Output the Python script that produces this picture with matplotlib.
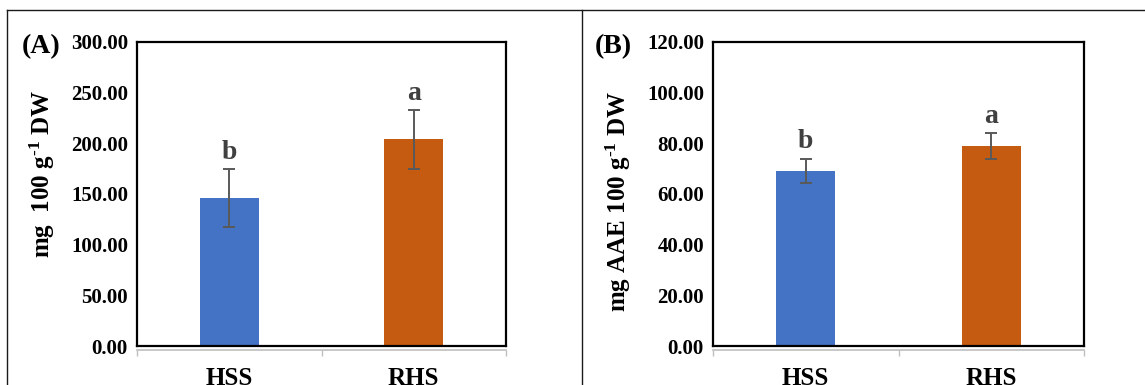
import matplotlib
matplotlib.use("Agg")
import matplotlib.pyplot as plt
from matplotlib.lines import Line2D
from matplotlib.ticker import FormatStrFormatter, MultipleLocator

# ---- data ----
categories = ["HSS", "RHS"]
a_values = [146.0, 204.0]
a_errors = [29.0, 29.0]
a_letters = ["b", "a"]
b_values = [69.1, 79.0]
b_errors = [4.8, 5.0]
b_letters = ["b", "a"]
bar_colors = ["#4472C4", "#C55A11"]

plt.rcParams["font.family"] = ["Liberation Serif", "DejaVu Serif"]
plt.rcParams["font.weight"] = "bold"
plt.rcParams["mathtext.fontset"] = "custom"
plt.rcParams["mathtext.rm"] = "Liberation Serif:bold"
plt.rcParams["mathtext.bf"] = "Liberation Serif:bold"
plt.rcParams["mathtext.it"] = "Liberation Serif:bold"

W, H = 1145, 385
fig = plt.figure(figsize=(W / 100, H / 100), dpi=100)


def px_axes(l, r, t, b):
    return fig.add_axes([l / W, (H - b) / H, (r - l) / W, (b - t) / H])


def draw_panel(ax, values, errors, letters, ymax, step, ylabel, lab_x, lab_y, letter_off):
    x = list(range(len(categories)))
    ax.bar(x, values, width=0.32, color=bar_colors, zorder=2)
    ax.errorbar(x, values, yerr=errors, fmt="none", ecolor="#595959",
                elinewidth=1.4, capsize=4.3, capthick=1.4, zorder=3)
    for xi, v, e, t in zip(x, values, errors, letters):
        ax.annotate(t, (xi, v + e), xytext=(0, letter_off), textcoords="offset points",
                    ha="center", va="baseline", fontsize=20, fontweight="bold",
                    color="#404040")
    ax.set_xlim(-0.5, len(categories) - 0.5)
    ax.set_ylim(0, ymax)
    ax.yaxis.set_major_locator(MultipleLocator(step))
    ax.yaxis.set_major_formatter(FormatStrFormatter("%.2f"))
    ax.set_xticks(x)
    ax.set_xticklabels(categories)
    ax.tick_params(axis="x", length=0, pad=15, labelsize=18)
    ax.tick_params(axis="y", length=0, pad=6.5, labelsize=15)
    for s in ax.spines.values():
        s.set_linewidth(1.6)
        s.set_color("black")
    ax.set_ylabel(ylabel, fontsize=18, fontweight="bold")
    ax.yaxis.set_label_coords(lab_x, lab_y)
    # gray category axis just below the plot frame
    sec = ax.secondary_xaxis(-0.012)
    sec.set_xticks([-0.5, 0.5, 1.5])
    sec.set_xticklabels([])
    sec.tick_params(length=4, width=1, color="#BFBFBF", direction="out")
    sec.spines["bottom"].set_color("#BFBFBF")
    sec.spines["bottom"].set_linewidth(1.2)


axA = px_axes(137, 506, 42, 346)
draw_panel(axA, a_values, a_errors, a_letters, 300, 50,
           r"mg  100 g$^{\text{-1}}$ DW", -0.217, 0.566, 7)

axB = px_axes(713, 1084, 42, 346)
draw_panel(axB, b_values, b_errors, b_letters, 120, 20,
           r"mg AAE 100 g$^{\text{-1}}$ DW", -0.2145, 0.475, 7.5)

fig.text(22 / W, (H - 53) / H, "(A)", fontsize=20, fontweight="bold", va="baseline", ha="left")
fig.text(595 / W, (H - 53) / H, "(B)", fontsize=20, fontweight="bold", va="baseline", ha="left")

# outer table-like frame
def fline(xs, ys):
    fig.add_artist(Line2D([v / W for v in xs], [(H - v) / H for v in ys],
                          color="#1a1a1a", lw=1.0, transform=fig.transFigure))

fline([7, 1145], [10, 10])
fline([7, 7], [10, 385])
fline([582, 582], [10, 385])

fig.savefig("out.png", dpi=100)
